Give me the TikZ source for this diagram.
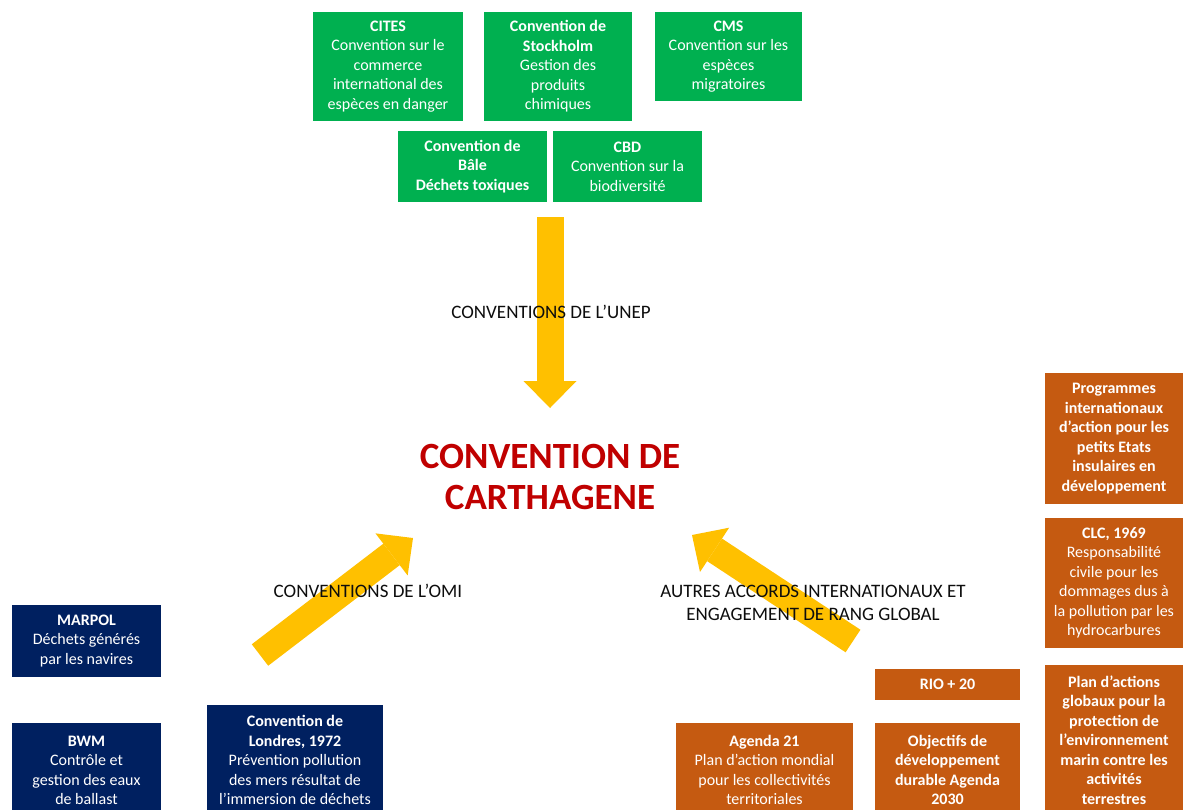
\documentclass[tikz,border=0pt]{standalone}
\usepackage{fontspec}
\setmainfont{Carlito}
\usetikzlibrary{arrows.meta}
\definecolor{ggreen}{HTML}{00B050}
\definecolor{gnavy}{HTML}{002060}
\definecolor{gorange}{HTML}{C55A11}
\definecolor{ggold}{HTML}{FFC000}
\definecolor{tred}{HTML}{C00000}
\definecolor{tdark}{HTML}{0D0D0D}
\begin{document}
\begin{tikzpicture}[x=1pt,y=-1pt,
  box/.style={fill=#1, text=white, inner sep=0pt, align=center,
    font=\fontsize{16}{19.5}\selectfont},
  bigarrow/.style={draw=ggold, line width=27pt,
    -{Triangle[width=53pt,length=27pt,line width=0pt,fill=ggold]}},
  lbl/.style={text=tdark, align=center, inner sep=0pt,
    font=\fontsize{19}{23}\selectfont},
  ttl/.style={text=tred, align=center, inner sep=0pt,
    font=\bfseries\fontsize{37}{41}\selectfont}]
\clip (0,0) rectangle (1183,809);
\fill[white] (0,0) rectangle (1183,809);

% arrows (behind the labels)
\coordinate (unepA) at (550,217);
\coordinate (unepB) at (550,408);
\coordinate (omiA) at (260,655);
\coordinate (omiB) at (413,538);
\coordinate (autA) at (853,641);
\coordinate (autB) at (692,535);
\draw[bigarrow] (unepA) -- (unepB);
\draw[bigarrow] (omiA) -- (omiB);
\draw[bigarrow] (autA) -- (autB);

% UNEP boxes (green)
\node[box=ggreen, minimum width=150pt, minimum height=109pt] (cites) at (388,66.5)
  {\textbf{CITES}\\Convention sur le\\commerce\\international des\\espèces en danger};
\node[box=ggreen, minimum width=148pt, minimum height=109pt] (stock) at (558,66.5)
  {\textbf{Convention de}\\\textbf{Stockholm}\\Gestion des\\produits\\chimiques};
\node[box=ggreen, minimum width=147pt, minimum height=89pt] (cms) at (728.5,56.5)
  {\textbf{CMS}\\Convention sur les\\espèces\\migratoires};
\node[box=ggreen, minimum width=149pt, minimum height=71pt] (bale) at (472.5,166.5)
  {\textbf{Convention de}\\\textbf{Bâle}\\\textbf{Déchets toxiques}};
\node[box=ggreen, minimum width=149pt, minimum height=71pt] (cbd) at (627.5,166.5)
  {\textbf{CBD}\\Convention sur la\\biodiversité};

% OMI boxes (navy)
\node[box=gnavy, minimum width=149pt, minimum height=72pt] (marpol) at (86.5,641)
  {\textbf{MARPOL}\\Déchets générés\\par les navires};
\node[box=gnavy, minimum width=149pt, minimum height=95pt] (bwm) at (86.5,770.5)
  {\textbf{BWM}\\Contrôle et\\gestion des eaux\\de ballast};
\node[box=gnavy, minimum width=176pt, minimum height=110pt] (londres) at (295,760)
  {\textbf{Convention de}\\\textbf{Londres, 1972}\\Prévention pollution\\des mers résultat de\\l’immersion de déchets};

% other agreements (orange)
\node[box=gorange, minimum width=177pt, minimum height=94pt] (agenda) at (764.5,770)
  {\textbf{Agenda 21}\\Plan d’action mondial\\pour les collectivités\\territoriales};
\node[box=gorange, minimum width=145pt, minimum height=94pt, font=\bfseries\fontsize{16}{19.5}\selectfont] (odd) at (947.5,770)
  {Objectifs de\\développement\\durable Agenda\\2030};
\node[box=gorange, minimum width=145pt, minimum height=31pt, font=\bfseries\fontsize{16}{19.5}\selectfont] (rio) at (947.5,684.5)
  {RIO + 20};
\node[box=gorange, minimum width=138pt, minimum height=150pt, font=\bfseries\fontsize{16}{19.5}\selectfont] (plan) at (1114,740)
  {Plan d’actions\\globaux pour la\\protection de\\l’environnement\\marin contre les\\activités\\terrestres};
\node[box=gorange, minimum width=138pt, minimum height=131pt, font=\bfseries\fontsize{16}{19.5}\selectfont] (prog) at (1114,438.5)
  {Programmes\\internationaux\\d’action pour les\\petits Etats\\insulaires en\\développement};
\node[box=gorange, minimum width=138pt, minimum height=130pt] (clc) at (1114,583)
  {\textbf{CLC, 1969}\\Responsabilité\\civile pour les\\dommages dus à\\la pollution par les\\hydrocarbures};

% title and labels
\node[ttl] (title) at (550,476.5) {CONVENTION DE\\CARTHAGENE};
\node[lbl] (lunep) at (551,312) {CONVENTIONS DE L’UNEP};
\node[lbl] (lomi) at (368,591) {CONVENTIONS DE L’OMI};
\node[lbl] (laut) at (813,602.5) {AUTRES ACCORDS INTERNATIONAUX ET\\ENGAGEMENT DE RANG GLOBAL};
\end{tikzpicture}
\end{document}
